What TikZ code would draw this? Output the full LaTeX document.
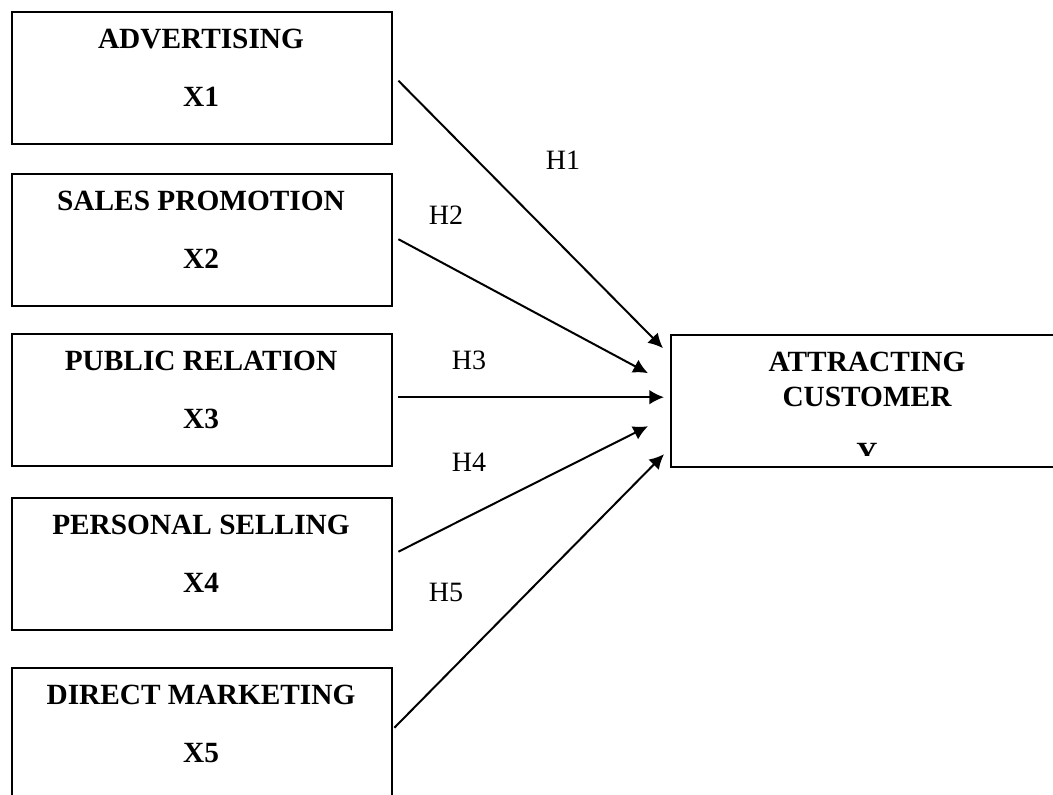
\documentclass[tikz,border=0pt]{standalone}
\usepackage{fontspec}
\setmainfont{Liberation Serif}
\usetikzlibrary{arrows.meta, positioning}
\tikzset{
  varbox/.style={rectangle, draw=black, line width=1.8pt, minimum width=380*0.75pt,
                 minimum height=132*0.75pt, inner sep=0pt},
  title/.style={font=\fontsize{22}{26}\selectfont\bfseries, inner sep=0pt},
  hlabel/.style={font=\fontsize{21}{25}\selectfont, inner sep=0pt},
  arrow/.style={-{Latex[length=11pt, width=11pt]}, line width=1.5pt},
}

\begin{document}
\begin{tikzpicture}[x=0.75pt, y=0.75pt]

  \useasboundingbox (0,0) rectangle (1053,794);
  \clip (0,0) rectangle (1053,794);

  %% independent variables
  \foreach \n/\top/\lbl/\var in {
    x1/783/ADVERTISING/X1,
    x2/621/SALES PROMOTION/X2,
    x3/461/PUBLIC RELATION/X3,
    x4/297/PERSONAL SELLING/X4,
    x5/127/DIRECT MARKETING/X5}
  {
    \node[varbox, anchor=north west] (\n) at (11,\top) {};
    \node[title] (\n-t) at (201,\top-28) {\lbl};
    \node[title] (\n-v) at (201,\top-86) {\var};
  }

  %% dependent variable
  \node[varbox, minimum width=394*0.75pt, anchor=north west] (y) at (670,460) {};
  \node[title] (y-t1) at (867,432) {ATTRACTING};
  \node[title] (y-t2) at (867,397) {CUSTOMER};
  \begin{scope}
    \clip (670,339) rectangle (1064,460);
    \node[title] (y-v) at (867,341) {Y};
  \end{scope}

  %% hypotheses
  \foreach \n/\sx/\sy/\ex/\ey in {
    x1/5/-2.5/-7/53,
    x2/5/1/-22/28,
    x3/5/3/-6/4,
    x4/5/12.5/-22/-25,
    x5/1/6.5/-6/-53}
  {
    \draw[arrow] ([shift={(\sx,\sy)}]\n.east) -- ([shift={(\ex,\ey)}]y.west);
  }

  \node[hlabel] (h1) at (563,634) {H1};
  \node[hlabel] (h2) at (446,579) {H2};
  \node[hlabel] (h3) at (469,434) {H3};
  \node[hlabel] (h4) at (469,332) {H4};
  \node[hlabel] (h5) at (446,202) {H5};

\end{tikzpicture}
\end{document}
